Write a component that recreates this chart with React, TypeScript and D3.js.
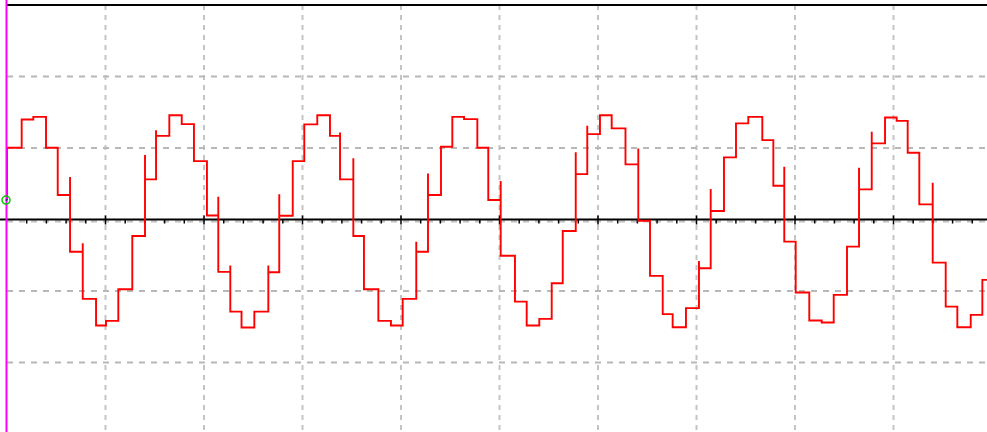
import React from "react";
import * as d3 from "d3";

// time in divisions, voltage in divisions
const stepTimes = [0, 0, 0.149, 0.267, 0.396, 0.515, 0.640, 0.769, 0.904, 1.005, 1.130, 1.272, 1.401, 1.513, 1.648, 1.774, 1.898, 2.030, 2.145, 2.267, 2.381, 2.511, 2.653, 2.764, 2.901, 3.018, 3.150, 3.279, 3.381, 3.516, 3.624, 3.770, 3.898, 4.017, 4.155, 4.274, 4.406, 4.521, 4.640, 4.775, 4.886, 5.012, 5.157, 5.276, 5.404, 5.530, 5.642, 5.774, 5.891, 6.020, 6.139, 6.279, 6.409, 6.528, 6.657, 6.758, 6.893, 7.025, 7.144, 7.279, 7.401, 7.526, 7.668, 7.780, 7.891, 8.007, 8.145, 8.271, 8.393, 8.528, 8.650, 8.779, 8.914, 9.032, 9.144, 9.262, 9.398, 9.530, 9.648, 9.784, 9.902];

const stepLevels = [0.272, 1.003, 1.399, 1.436, 1.003, 0.342, -0.450, -1.110, -1.483, -1.418, -0.975, -0.230, 0.561, 1.170, 1.459, 1.334, 0.817, 0.056, -0.733, -1.288, -1.511, -1.288, -0.737, 0.053, 0.817, 1.330, 1.459, 1.170, 0.561, -0.230, -0.975, -1.418, -1.483, -1.110, -0.450, 0.342, 1.017, 1.436, 1.404, 1.003, 0.272, -0.506, -1.148, -1.483, -1.390, -0.891, -0.161, 0.635, 1.194, 1.459, 1.274, 0.771, -0.017, -0.789, -1.324, -1.506, -1.240, -0.682, 0.119, 0.869, 1.344, 1.436, 1.110, 0.472, -0.310, -1.022, -1.413, -1.441, -1.054, -0.380, 0.422, 1.064, 1.427, 1.380, 0.933, 0.212, -0.603, -1.218, -1.506, -1.334, -0.845];

// glitch overshoot at the leading edge of a step (null = none)
const stepSpikes: (number | null)[] = [null, null, null, null, null, null, 0.594, -0.332, null, null, null, null, 0.901, 1.250, null, null, null, null, 0.318, -0.645, null, null, -0.645, 0.352, null, null, null, null, 1.218, 0.855, null, null, null, null, -0.310, 0.645, null, null, null, null, null, 0.538, null, null, null, null, null, 0.939, 1.310, null, null, null, 0.994, null, null, null, null, -0.580, 0.426, null, null, null, null, null, 0.737, null, null, null, null, null, 0.723, 1.226, null, null, null, null, 0.514, null, null, null, null];

const endTime = 10;
const hGrid = [2, 1, -1, -2];
const vGrid = [1, 2, 3, 4, 5, 6, 7, 8, 9];
const minorTicks = d3.range(1, 51).map((i) => i * 0.2);
const markerLevel = 0.272;

const W = 987;
const H = 432;

export default function App() {
  const x = d3.scaleLinear().domain([0, 10]).range([7, 992]);
  const y = d3.scaleLinear().domain([-3, 3]).range([219.5 + 3 * 71.5, 219.5 - 3 * 71.5]);

  const pts: [number, number][] = [];
  for (let i = 0; i < stepTimes.length; i++) {
    const t = stepTimes[i];
    if (i > 0) {
      pts.push([t, stepLevels[i - 1]]);
      const s = stepSpikes[i];
      if (s !== null && s !== undefined) pts.push([t, s]);
    }
    pts.push([t, stepLevels[i]]);
  }
  pts.push([endTime, stepLevels[stepLevels.length - 1]]);

  const line = d3
    .line<[number, number]>()
    .x((d) => x(d[0]))
    .y((d) => y(d[1]));

  return (
    <svg
      width={W}
      height={H}
      style={{ position: "fixed", left: 0, top: 0, background: "#fff" }}
    >
      <rect x={0} y={0} width={W} height={H} fill="#fff" />
      {vGrid.map((t) => (
        <line
          key={"v" + t}
          x1={x(t)}
          x2={x(t)}
          y1={y(3)}
          y2={H}
          stroke="#c4c4c4"
          strokeWidth={2}
          strokeDasharray="5,5"
        />
      ))}
      {hGrid.map((v) => (
        <line
          key={"h" + v}
          x1={x(0)}
          x2={W}
          y1={y(v)}
          y2={y(v)}
          stroke="#b8b8b8"
          strokeWidth={2}
          strokeDasharray="6,6"
        />
      ))}
      <line x1={x(0)} x2={W} y1={y(0) + 2} y2={y(0) + 2} stroke="#c0c0c0" strokeWidth={2} strokeDasharray="6,6" />
      <line x1={x(0)} x2={W} y1={y(3)} y2={y(3)} stroke="#000" strokeWidth={2} />
      <line x1={0} x2={W} y1={y(0)} y2={y(0)} stroke="#000" strokeWidth={2} />
      {minorTicks.map((t, i) => {
        const major = Math.abs(t - Math.round(t)) < 1e-6;
        return (
          <line
            key={"t" + i}
            x1={x(t)}
            x2={x(t)}
            y1={y(0) + (major ? -4 : 0)}
            y2={y(0) + (major ? 5 : 4)}
            stroke="#000"
            strokeWidth={1.5}
          />
        );
      })}
      <path d={line(pts) || ""} fill="none" stroke="#ff0000" strokeWidth={1.9} />
      <line x1={x(0) - 0.5} x2={x(0) - 0.5} y1={0} y2={H} stroke="#ff00ff" strokeWidth={2} />
      <circle cx={x(0) - 1} cy={y(markerLevel)} r={4} fill="none" stroke="#00c800" strokeWidth={1.5} />
      <circle cx={x(0) - 0.5} cy={y(markerLevel)} r={1} fill="#202080" />
    </svg>
  );
}
